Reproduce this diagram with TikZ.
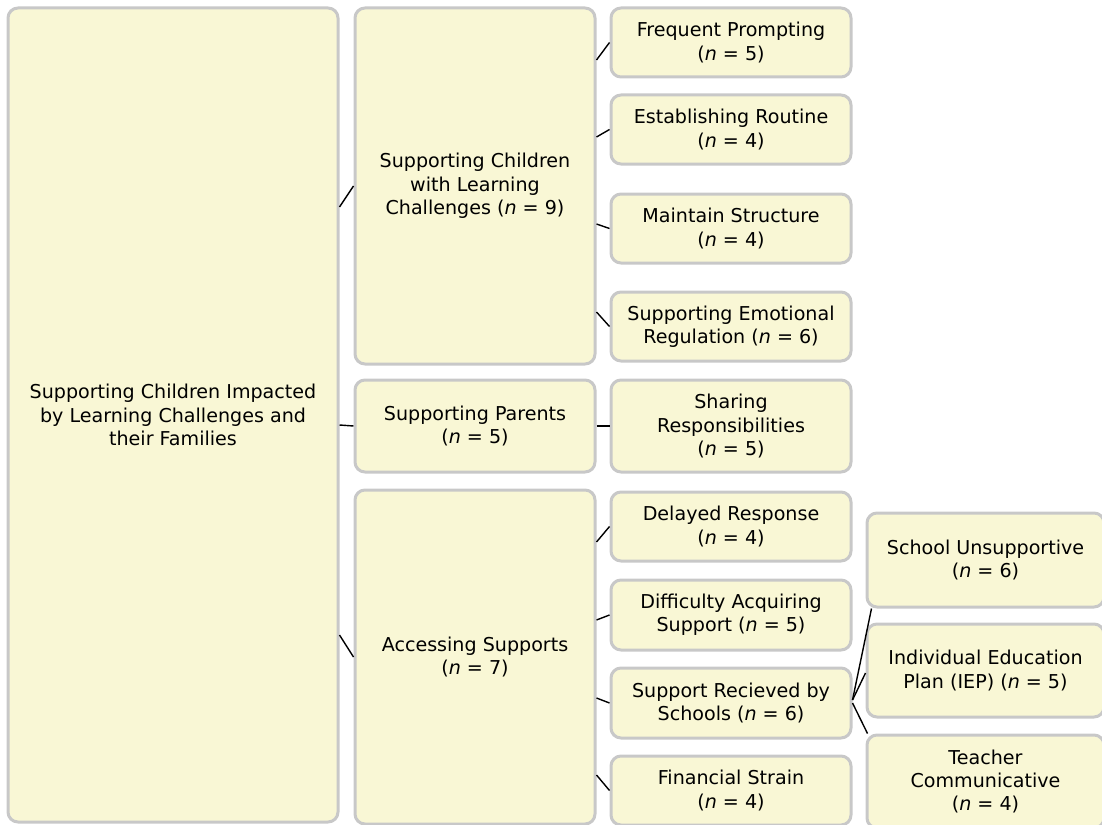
\documentclass[tikz,border=0pt]{standalone}
\usepackage{fontspec}
\setmainfont{DejaVu Sans}
\definecolor{boxfill}{HTML}{F9F7D5}
\definecolor{boxline}{HTML}{C8C8C8}
\newcommand{\nn}[1]{(\textit{n} = #1)}
\begin{document}
\begin{tikzpicture}[x=1pt,y=-1pt,
  topicbox/.style={draw=boxline, fill=boxfill, line width=3pt, rounded corners=10pt,
    align=center, inner sep=0pt, font=\fontsize{19.1}{23.3}\selectfont},
  link/.style={draw=black, line width=1.4pt}]
\useasboundingbox (0,0) rectangle (1102,824);
% root
\node[topicbox, minimum width=330pt, minimum height=814pt] (root) at (173,415)
  {Supporting Children Impacted\\by Learning Challenges and\\their Families};
% level 1
\node[topicbox, minimum width=240pt, minimum height=356pt] (l1a) at (475,186)
  {Supporting Children\\with Learning\\Challenges \nn{9}};
\node[topicbox, minimum width=240pt, minimum height=92pt] (l1b) at (475,426)
  {Supporting Parents\\\nn{5}};
\node[topicbox, minimum width=240pt, minimum height=334pt] (l1c) at (475,657)
  {Accessing Supports\\\nn{7}};
% level 2
\node[topicbox, minimum width=240pt, minimum height=69pt] (fp) at (731,42.5)
  {Frequent Prompting\\\nn{5}};
\node[topicbox, minimum width=240pt, minimum height=69pt] (er) at (731,129.5)
  {Establishing Routine\\\nn{4}};
\node[topicbox, minimum width=240pt, minimum height=69pt] (ms) at (731,228.5)
  {Maintain Structure\\\nn{4}};
\node[topicbox, minimum width=240pt, minimum height=69pt] (ser) at (731,326.5)
  {Supporting Emotional\\Regulation \nn{6}};
\node[topicbox, minimum width=240pt, minimum height=92pt] (sr) at (731,426)
  {Sharing\\Responsibilities\\\nn{5}};
\node[topicbox, minimum width=240pt, minimum height=69pt] (dr) at (731,526.5)
  {Delayed Response\\\nn{4}};
\node[topicbox, minimum width=240pt, minimum height=70pt] (da) at (731,615)
  {Difficulty Acquiring\\Support \nn{5}};
\node[topicbox, minimum width=240pt, minimum height=70pt] (srs) at (731,703)
  {Support Recieved by\\Schools \nn{6}};
\node[topicbox, minimum width=240pt, minimum height=69pt] (fs) at (731,790.5)
  {Financial Strain\\\nn{4}};
% level 3
\node[topicbox, minimum width=237pt, minimum height=94pt] (su) at (985.5,560)
  {School Unsupportive\\\nn{6}};
\node[topicbox, minimum width=237pt, minimum height=93pt] (iep) at (985.5,670.5)
  {Individual Education\\Plan (IEP) \nn{5}};
\node[topicbox, minimum width=237pt, minimum height=93pt] (tc) at (985.5,781.5)
  {Teacher\\Communicative\\\nn{4}};
% connectors
\draw[link] ([yshift=208pt]root.east) -- (l1a.west);
\draw[link] ([yshift=-10pt]root.east) -- (l1b.west);
\draw[link] ([yshift=-220pt]root.east) -- (l1c.west);
\draw[link] ([yshift=126pt]l1a.east) -- (fp.west);
\draw[link] ([yshift=49pt]l1a.east) -- (er.west);
\draw[link] ([yshift=-38pt]l1a.east) -- (ms.west);
\draw[link] ([yshift=-126pt]l1a.east) -- (ser.west);
\draw[link] (l1b.east) -- (sr.west);
\draw[link] ([yshift=115pt]l1c.east) -- (dr.west);
\draw[link] ([yshift=37pt]l1c.east) -- (da.west);
\draw[link] ([yshift=-41pt]l1c.east) -- (srs.west);
\draw[link] ([yshift=-118pt]l1c.east) -- (fs.west);
\draw[link] ([yshift=3pt]srs.east) -- ([xshift=6pt]su.south west);
\draw[link] ([yshift=3pt]srs.east) -- ([yshift=-2.5pt]iep.west);
\draw[link] (srs.east) -- ([xshift=2pt]tc.north west);
\end{tikzpicture}
\end{document}
